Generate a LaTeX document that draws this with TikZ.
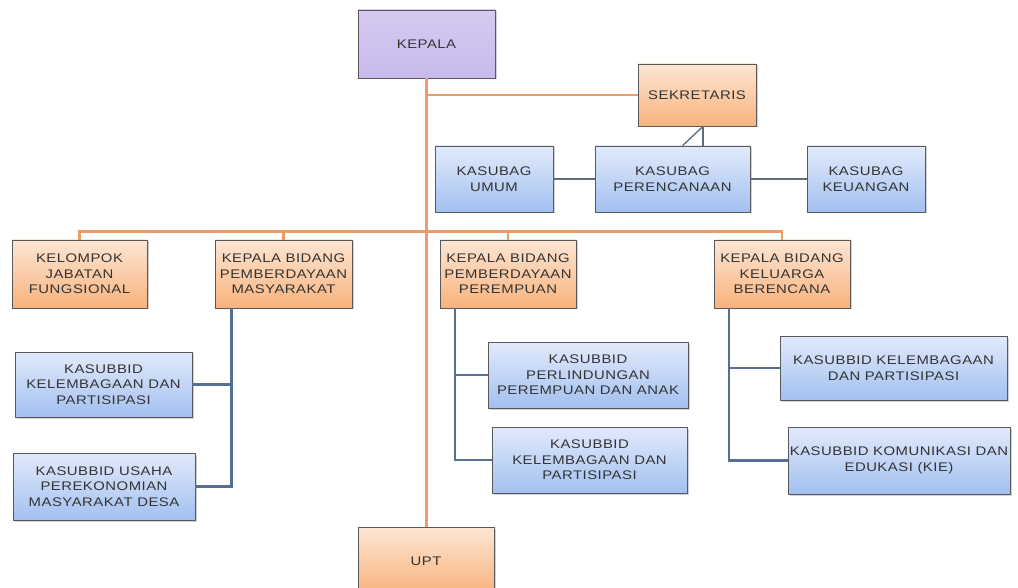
\documentclass[tikz,border=0pt]{standalone}
\usepackage{fontspec}
\setmainfont{Liberation Sans}
\newfontfamily\orgfont[FakeStretch=1.19,LetterSpace=4]{Liberation Sans}
\usetikzlibrary{shadows}
\definecolor{orgtop}{RGB}{253,230,212}
\definecolor{orgbot}{RGB}{248,178,124}
\definecolor{bluetop}{RGB}{226,234,251}
\definecolor{bluebot}{RGB}{162,192,240}
\definecolor{purtop}{RGB}{214,202,240}
\definecolor{purbot}{RGB}{200,186,236}
\definecolor{lineorg}{RGB}{236,156,104}
\definecolor{lineblue}{RGB}{84,112,150}
\definecolor{linegray}{RGB}{96,108,122}
\begin{document}
\begin{tikzpicture}[x=1pt,y=-1pt,
  unit/.style={draw=black!65, line width=0.6pt, align=center, inner sep=1pt,
    font=\orgfont\fontsize{12.5}{15.5}\selectfont, text=black!80,
    drop shadow={shadow xshift=1.5pt, shadow yshift=-1.5pt, opacity=0.35}},
  orgbox/.style={unit, top color=orgtop, bottom color=orgbot},
  bluebox/.style={unit, top color=bluetop, bottom color=bluebot},
  purbox/.style={unit, top color=purtop, bottom color=purbot},
  size/.style 2 args={minimum width=#1pt, minimum height=#2pt},
  mainline/.style={lineorg, line width=2.6pt},
  subline/.style={lineblue, line width=2.6pt},
  staffline/.style={linegray, line width=1.3pt}]
\useasboundingbox[fill=white] (0,0) rectangle (1018,588);

\node[purbox, size={137}{68}] (kepala) at (426.5,44) {KEPALA};
\node[orgbox, size={118}{62}] (sekretaris) at (697,95) {SEKRETARIS};
\node[bluebox, size={118}{66}] (umum) at (494,179) {KASUBAG\\UMUM};
\node[bluebox, size={155}{66}] (perencanaan) at (672.5,179) {KASUBAG\\PERENCANAAN};
\node[bluebox, size={118}{66}] (keuangan) at (866,179) {KASUBAG\\KEUANGAN};

\node[orgbox, size={135}{68}] (kelompok) at (79.5,274) {KELOMPOK\\JABATAN\\FUNGSIONAL};
\node[orgbox, size={137}{68}] (bidpm) at (283.5,274) {KEPALA BIDANG\\PEMBERDAYAAN\\MASYARAKAT};
\node[orgbox, size={136}{68}] (bidpp) at (508,274) {KEPALA BIDANG\\PEMBERDAYAAN\\PEREMPUAN};
\node[orgbox, size={136}{68}] (bidkb) at (782,274) {KEPALA BIDANG\\KELUARGA\\BERENCANA};

\node[bluebox, size={177}{65}] (pmlembaga) at (103.5,384.5) {KASUBBID\\KELEMBAGAAN DAN\\PARTISIPASI};
\node[bluebox, size={182}{67}] (pmusaha) at (104,486.5) {KASUBBID USAHA\\PEREKONOMIAN\\MASYARAKAT DESA};
\node[bluebox, size={200}{66}] (pplindung) at (588,375) {KASUBBID\\PERLINDUNGAN\\PEREMPUAN DAN ANAK};
\node[bluebox, size={195}{66}] (pplembaga) at (589.5,460) {KASUBBID\\KELEMBAGAAN DAN\\PARTISIPASI};
\node[bluebox, size={227}{64}] (kblembaga) at (893.5,368) {KASUBBID KELEMBAGAAN\\DAN PARTISIPASI};
\node[bluebox, size={222}{67}] (kbkie) at (899,460.5) {KASUBBID KOMUNIKASI DAN\\EDUKASI (KIE)};

\node[orgbox, size={136}{68}] (upt) at (426,561) {UPT};

\draw[mainline] (kepala.south) -- (kepala.south |- upt.north);
\draw[mainline] (kepala.south |- sekretaris.west) -- (sekretaris.west);
\draw[mainline] (kelompok.north) -- ++(0,-8) -| (bidkb.north);
\draw[mainline] (bidpm.north) -- ++(0,-8);
\draw[mainline] (bidpp.north) -- ++(0,-8);

\draw[staffline] (umum.east) -- (perencanaan.west);
\draw[staffline] (perencanaan.east) -- (keuangan.west);
\coordinate (sekfoot) at ([xshift=6pt]sekretaris.south);
\draw[staffline] (sekfoot) -- (sekfoot |- perencanaan.north);
\draw[staffline] (sekfoot) -- ([xshift=10pt]perencanaan.north);

\coordinate (pmtrunk) at ([xshift=-52pt]bidpm.south);
\draw[subline] (pmtrunk) |- (pmusaha.east);
\draw[subline] (pmlembaga.east) -- (pmlembaga.east -| pmtrunk);
\coordinate (pptrunk) at ([xshift=-53pt]bidpp.south);
\draw[subline] (pptrunk) |- (pplembaga.west);
\draw[subline] (pplindung.west) -- (pplindung.west -| pptrunk);
\coordinate (kbtrunk) at ([xshift=-53pt]bidkb.south);
\draw[subline] (kbtrunk) |- (kbkie.west);
\draw[subline] (kblembaga.west) -- (kblembaga.west -| kbtrunk);
\end{tikzpicture}
\end{document}
